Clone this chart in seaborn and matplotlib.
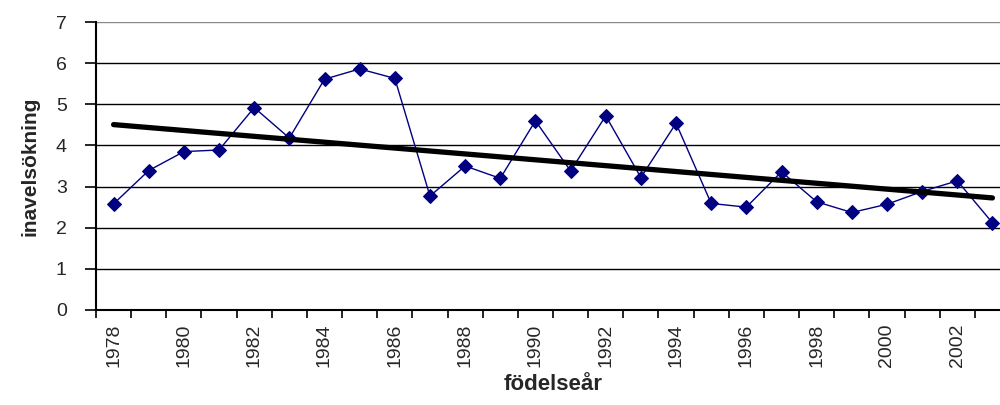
import numpy as np
import pandas as pd
import matplotlib
matplotlib.use("Agg")
import matplotlib.pyplot as plt
import seaborn as sns
from matplotlib.ticker import MultipleLocator, FixedLocator

# Data
years = list(range(1978, 2004))
inavel = [2.58, 3.39, 3.85, 3.89, 4.92, 4.18, 5.61, 5.86, 5.63, 2.77,
          3.50, 3.20, 4.60, 3.38, 4.72, 3.22, 4.54, 2.59, 2.50, 3.36,
          2.63, 2.37, 2.57, 2.88, 3.14, 2.12]
even_years = list(range(1978, 2004, 2))

df = pd.DataFrame({'year': years, 'value': inavel})

sns.set_style("white")
plt.rcParams['font.family'] = ['Liberation Sans', 'DejaVu Sans']

fig = plt.figure(figsize=(10, 4.05), dpi=100)
ax = fig.add_axes([0.096, 0.2346, 0.914, 0.711])

# gridlines
for v in range(1, 8):
    ax.axhline(v, color='black' if v < 7 else '#888888', lw=1.0, zorder=0)

# data series
sns.lineplot(data=df, x='year', y='value', ax=ax, color='#000080', lw=1.0,
             marker='D', markersize=7.5, markeredgecolor='#000080',
             markerfacecolor='#000080', zorder=3)

# linear trend line (Excel-style)
sns.regplot(data=df, x='year', y='value', ax=ax, scatter=False, ci=None,
            line_kws={'color': 'black', 'lw': 3.8, 'zorder': 4})

ax.set_xlim(1977.5, 2003.5)
ax.set_ylim(0, 7)

ax.xaxis.set_major_locator(FixedLocator(even_years))
ax.xaxis.set_minor_locator(FixedLocator([y + 0.5 for y in range(1977, 2004)]))
ax.set_xticklabels([str(y) for y in even_years], rotation=90, fontsize=14)
ax.tick_params(axis='x', which='major', length=0, pad=10)
ax.tick_params(axis='x', which='minor', length=6, width=1.2, color='black',
               direction='out', bottom=True)

ax.yaxis.set_major_locator(MultipleLocator(1))
ax.tick_params(axis='y', which='major', length=8, width=1.2, color='black',
               direction='out', left=True, pad=13, labelsize=14)

for s in ['top', 'right']:
    ax.spines[s].set_visible(False)
for s in ['left', 'bottom']:
    ax.spines[s].set_color('black')
    ax.spines[s].set_linewidth(1.5)

ax.set_xlabel('födelseår', fontsize=16, fontweight='bold', labelpad=5)
ax.set_ylabel('inavelsökning', fontsize=15, fontweight='bold', labelpad=12)

fig.savefig('out.png', dpi=100)
